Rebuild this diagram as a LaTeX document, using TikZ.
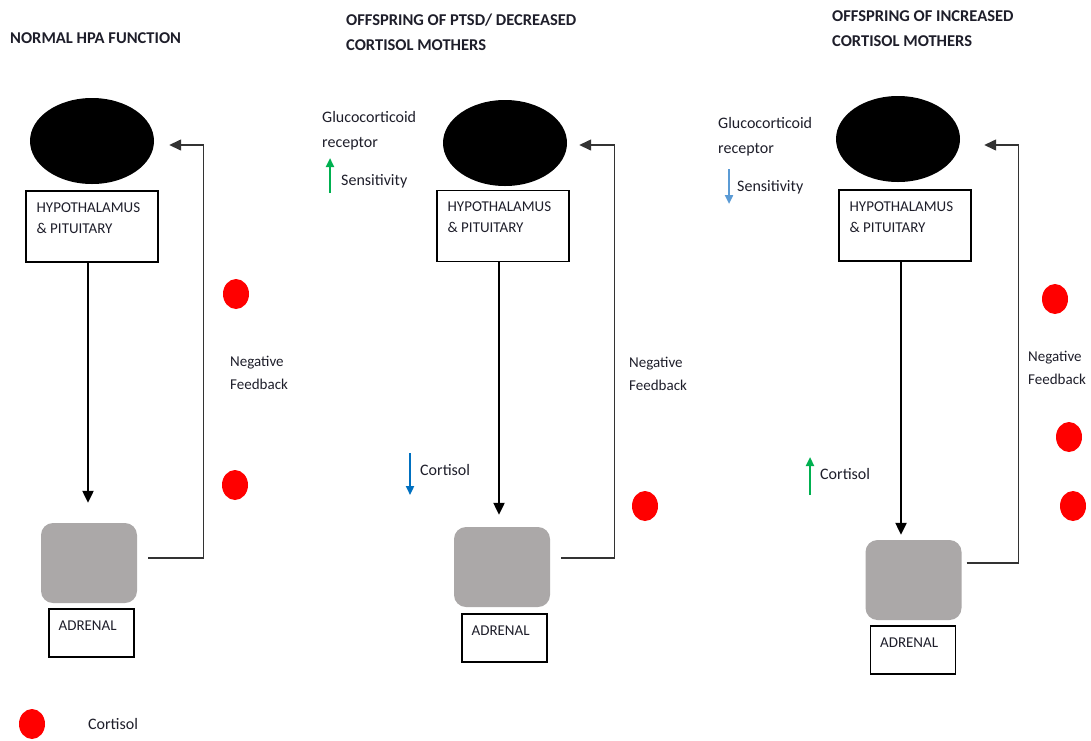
\documentclass[tikz,border=0pt]{standalone}
\usepackage{fontspec}
\setmainfont{Carlito}
\usetikzlibrary{shapes.geometric,arrows.meta,positioning}

\definecolor{ink}{HTML}{1E1E2A}
\definecolor{adrgrey}{HTML}{ABA8A8}
\definecolor{upgreen}{HTML}{00B050}
\definecolor{downblue}{HTML}{0070C0}
\definecolor{paleblue}{HTML}{5B9BD5}

\tikzset{
  paneltitle/.style={font=\fontsize{16.5}{25}\selectfont\bfseries, align=left, anchor=west, inner sep=0pt, text=ink},
  gland/.style={ellipse, fill=black, minimum width=124pt, minimum height=86pt, inner sep=0pt},
  hpbox/.style={draw, line width=1.2pt, minimum width=132pt, minimum height=71pt, inner sep=0pt},
  boxtext/.style={font=\fontsize{15}{21}\selectfont, align=left, anchor=north west, inner sep=0pt, text=ink},
  adrgland/.style={fill=adrgrey, rounded corners=12pt, minimum width=96pt, minimum height=80pt, inner sep=0pt},
  adrbox/.style={draw, line width=1.2pt, minimum width=85pt, minimum height=48pt, inner sep=0pt},
  cortdot/.style={ellipse, fill=red, minimum width=26pt, minimum height=30pt, inner sep=0pt},
  sidenote/.style={font=\fontsize{16}{25}\selectfont, align=left, anchor=west, inner sep=0pt, text=ink},
  fbnote/.style={font=\fontsize{15}{23}\selectfont, align=left, anchor=west, inner sep=0pt, text=ink},
  downarrow/.style={line width=2.2pt, -{Triangle[length=12pt,width=11pt]}},
  fbline/.style={line width=1.4pt, draw=black!80, -{Triangle[length=12pt,width=11pt]}},
  levelarrow/.style={line width=2.2pt, -{Triangle[length=9pt,width=8pt]}},
}

\begin{document}
\begin{tikzpicture}[x=1pt, y=-1pt]
    \useasboundingbox (0,0) rectangle (1091,740);

    % Panel 1: normal HPA function
    \node[paneltitle] (title1) at (10,38) {NORMAL HPA FUNCTION};
    \node[gland] (gland1) at (92,141) {};
    \node[hpbox] (hp1) at (92,226.5) {};
    \node[boxtext] (hpt1) at ([xshift=11pt,yshift=-12pt]hp1.north west) {HYPOTHALAMUS\\\& PITUITARY};
    \node[adrgland] (adr1) at (89,563) {};
    \node[adrbox] (adb1) at (91.5,633) {};
    \node[boxtext] (adt1) at ([xshift=10pt,yshift=-12pt]adb1.north west) {ADRENAL};
    \draw[downarrow, shorten >=20pt] ([xshift=-4pt]hp1.south) -- ([xshift=-4pt]hp1.south |- adr1.north);
    \draw[fbline] ([xshift=11pt,yshift=5pt]adr1.east) -- ++(55,0) |- ([xshift=15pt,yshift=-4pt]gland1.east);
    \node[cortdot] (c1a) at (236,294) {};
    \node[cortdot] (c1b) at (235,485) {};
    \node[fbnote] (fb1) at (230,373) {Negative\\Feedback};

    % Panel 2: offspring of PTSD / decreased cortisol mothers
    \node[paneltitle] (title2) at (346,32.5) {OFFSPRING OF PTSD/ DECREASED\\CORTISOL MOTHERS};
    \node[gland] (gland2) at (505,143) {};
    \node[hpbox] (hp2) at (503,226) {};
    \node[boxtext] (hpt2) at ([xshift=11pt,yshift=-12pt]hp2.north west) {HYPOTHALAMUS\\\& PITUITARY};
    \node[adrgland] (adr2) at (502,567) {};
    \node[adrbox] (adb2) at (504.5,638) {};
    \node[boxtext] (adt2) at ([xshift=10pt,yshift=-12pt]adb2.north west) {ADRENAL};
    \draw[downarrow, shorten >=12pt] ([xshift=-4pt]hp2.south) -- ([xshift=-4pt]hp2.south |- adr2.north);
    \draw[fbline] ([xshift=11pt,yshift=9pt]adr2.east) -- ++(53,0) |- ([xshift=12pt,yshift=-2pt]gland2.east);
    \node[cortdot] (c2a) at (645,506) {};
    \node[fbnote] (fb2) at (629,374) {Negative\\Feedback};
    \node[sidenote] (gr2) at (322,130.5) {Glucocorticoid\\receptor};
    \node[sidenote] (sens2) at (341,181) {Sensitivity};
    \draw[levelarrow, upgreen] (330,193) -- (330,158);
    \node[sidenote] (cort2) at (420,470) {Cortisol};
    \draw[levelarrow, downblue] (410,453) -- (410,495);

    % Panel 3: offspring of increased cortisol mothers
    \node[paneltitle] (title3) at (832,28.5) {OFFSPRING OF INCREASED\\CORTISOL MOTHERS};
    \node[gland] (gland3) at (898,139) {};
    \node[hpbox] (hp3) at (905,225.5) {};
    \node[boxtext] (hpt3) at ([xshift=11pt,yshift=-12pt]hp3.north west) {HYPOTHALAMUS\\\& PITUITARY};
    \node[adrgland] (adr3) at (913.5,580) {};
    \node[adrbox] (adb3) at (913,650) {};
    \node[boxtext] (adt3) at ([xshift=10pt,yshift=-12pt]adb3.north west) {ADRENAL};
    \draw[downarrow, shorten >=5pt] ([xshift=-4pt]hp3.south) -- ([xshift=-4pt]hp3.south |- adr3.north);
    \draw[fbline] ([xshift=5pt,yshift=17pt]adr3.east) -- ++(52,0) |- ([xshift=24pt,yshift=-6pt]gland3.east);
    \node[cortdot] (c3a) at (1055,299) {};
    \node[cortdot] (c3b) at (1069,437) {};
    \node[cortdot] (c3c) at (1073,506) {};
    \node[fbnote] (fb3) at (1028,368) {Negative\\Feedback};
    \node[sidenote] (gr3) at (718,137) {Glucocorticoid\\receptor};
    \node[sidenote] (sens3) at (737,187) {Sensitivity};
    \draw[levelarrow, paleblue] (729,169) -- (729,204);
    \node[sidenote] (cort3) at (820,474) {Cortisol};
    \draw[levelarrow, upgreen] (810,495) -- (810,457);

    % Legend
    \node[cortdot] (legdot) at (32,724) {};
    \node[sidenote] (legtext) at (88,724) {Cortisol};
\end{tikzpicture}
\end{document}
